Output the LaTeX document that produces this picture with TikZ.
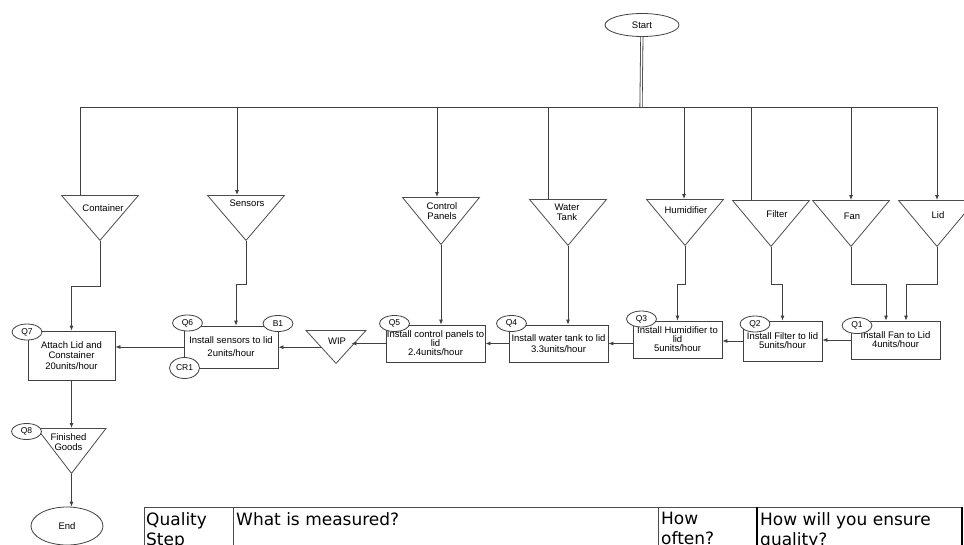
\documentclass[tikz,border=0pt]{standalone}
\usepackage{fontspec}
\setmainfont{Liberation Sans}
\newfontfamily\tablefont{DejaVu Sans}
\usetikzlibrary{shapes.geometric,arrows.meta}

\begin{document}
\begin{tikzpicture}[x=1pt,y=-1pt,
    line/.style={draw=black!75,line width=0.8pt},
    arr/.style={line,-{Latex[length=5pt,width=4pt]}},
    part/.style={isosceles triangle,isosceles triangle stretches,shape border rotate=270,draw=black!70,line width=0.8pt,minimum width=77pt,minimum height=45pt,inner sep=0pt,anchor=north},
    lbl/.style={anchor=north,font=\fontsize{9.5}{9.5}\selectfont,align=center,inner sep=0pt},
    stepbox/.style={draw=black!75,line width=0.8pt,font=\fontsize{9.5}{9}\selectfont,align=center,inner sep=1pt},
    qc/.style={ellipse,draw=black!75,line width=0.8pt,fill=white,minimum width=30pt,minimum height=16pt,inner sep=0pt,font=\fontsize{8.5}{8}\selectfont},
    term/.style={ellipse,draw=black!75,line width=0.8pt,inner sep=0pt,font=\fontsize{9.5}{9}\selectfont},
    cell/.style={anchor=north west,inner sep=0pt,align=left,font=\tablefont\fontsize{17}{20}\selectfont}]
  \useasboundingbox (0,0) rectangle (964,544);
  \clip (0,0) rectangle (964,544);

  % start and the supply line
  \node[term,minimum width=74pt,minimum height=23pt] (start) at (642,25) {Start};
  \coordinate (hub) at (641,107);

  % incoming parts
  \node[part,label={[lbl,xshift=3pt,yshift=-9pt]north:Container}] (cont) at (100,195) {};
  \node[part,label={[lbl,xshift=1pt,yshift=-5pt]north:Sensors}] (sens) at (246,195) {};
  \node[part,minimum height=47pt,label={[lbl,xshift=1pt,yshift=-5.5pt]north:Control\\Panels}] (cp) at (441,197) {};
  \node[part,minimum height=46pt,label={[lbl,xshift=-1pt,yshift=-5pt]north:Water\\Tank}] (wt) at (568,199) {};
  \node[part,minimum height=46pt,label={[lbl,xshift=1pt,yshift=-7.5pt]north:Humidifier}] (hum) at (685,199) {};
  \node[part,minimum height=46pt,label={[lbl,xshift=6pt,yshift=-10.5pt]north:Filter}] (filt) at (771,200) {};
  \node[part,minimum height=46pt,label={[lbl,xshift=1pt,yshift=-12.5pt]north:Fan}] (fan) at (851,200) {};
  \node[part,minimum height=46pt,label={[lbl,xshift=1pt,yshift=-11.5pt]north:Lid}] (lid) at (937,200) {};

  % assembly steps
  \node[stepbox,minimum width=89pt,minimum height=38pt] (s1) at (895.5,340) {Install Fan to Lid\\4units/hour};
  \node[stepbox,minimum width=79pt,minimum height=40pt] (s2) at (782.5,341) {Install Filter to lid\\5units/hour};
  \node[stepbox,minimum width=89pt,minimum height=37pt] (s3) at (677.5,339.5) {Install Humidifier to\\lid\\5units/hour};
  \node[stepbox,minimum width=99pt,minimum height=37pt] (s4) at (558.5,343.5) {Install water tank to lid\\[2pt]3.3units/hour};
  \node[stepbox,minimum width=99pt,minimum height=37pt] (s5) at (435.5,343.5) {Install control panels to\\lid\\2.4units/hour};
  \node[part,minimum width=60pt,minimum height=33pt,label={[lbl,xshift=1pt,yshift=-8pt]north:WIP}] (wip) at (336,330) {};
  \node[stepbox,minimum width=94pt,minimum height=42pt] (s6) at (231,347) {Install sensors to lid\\[4pt]2units/hour};
  \node[stepbox,minimum width=87pt,minimum height=49pt] (s7) at (71.5,355.5) {Attach Lid and\\[1pt]Constainer\\[2pt]20units/hour};
  \node[part,minimum width=69pt,minimum height=45pt,label={[lbl,xshift=-3pt,yshift=-5.5pt]north:Finished\\Goods}] (fg) at (71.5,428) {};
  \node[term,minimum width=72pt,minimum height=38pt] (end) at (67,526) {End};

  % checkpoints
  \node[qc] (q1) at (857,325.5) {Q1};
  \node[qc] (q2) at (755,324) {Q2};
  \node[qc] (q3) at (641.5,319) {Q3};
  \node[qc] (q4) at (511.5,323.5) {Q4};
  \node[qc] (q5) at (394.5,323.5) {Q5};
  \node[qc] (q6) at (187.5,323) {Q6};
  \node[qc] (b1) at (278,323.5) {B1};
  \node[qc,minimum height=21pt] (cr1) at (184.5,368) {CR1};
  \node[qc] (q7) at (27,332) {Q7};
  \node[qc] (q8) at (26.5,431.5) {Q8};

  % supply lines
  \draw[line,double,double distance=1.5pt] (start) -- (hub);
  \draw[line] (hub) -| ([xshift=-20pt]cont.north);
  \draw[arr] (hub) -| ([xshift=-9pt]sens.north);
  \draw[arr] (hub) -| ([xshift=-4pt]cp.north);
  \draw[line] (hub) -| ([xshift=-20pt]wt.north);
  \draw[arr] (hub) -| ([xshift=-1pt]hum.north);
  \draw[line] (hub) -| ([xshift=-20pt]filt.north);
  \draw[arr] (hub) -| (fan.north);
  \draw[arr] (hub) -| (lid.north);

  \draw[arr] (cont.apex) -- ++(0,45) -| (s7.north);
  \draw[arr] (sens.apex) -- ++(0,43) -| ([xshift=5pt]s6.north);
  \draw[arr] (cp.apex) -- (cp.apex |- s5.north);
  \draw[arr] (wt.apex) -- (wt.apex |- s4.north);
  \draw[arr] (hum.apex) -- ++(0,38) -| (s3.north);
  \draw[arr] (filt.apex) -- ++(0,37) -| (s2.north);
  \draw[arr] (fan.apex) -- ++(0,37) -| ([xshift=-9.5pt]s1.north);
  \draw[arr] (lid.apex) -- ++(0,37) -| ([xshift=10.5pt]s1.north);

  % main flow
  \draw[arr] (s1.west) -- (s1.west -| s2.east);
  \draw[arr] (s2.west) -- (s2.west -| s3.east);
  \draw[arr] (s4.east -| s3.west) -- (s4.east);
  \draw[arr] (s4.west) -- (s5.east);
  \draw[arr] (s5.west) -- (s5.west -| wip.left side);
  \draw[arr] (wip.right side) -- (wip.right side -| s6.east);
  \draw[arr] (s6.west) -- (s6.west -| s7.east);
  \draw[arr] (s7.south) -- (fg.north);
  \draw[arr] (fg.apex) -- (fg.apex |- end.north);

  % quality table
  \draw[black!70,line width=0.6pt] (144,507) rectangle (962,570);
  \draw[black!70,line width=0.6pt] (233,507) -- (233,570) (658,507) -- (658,570);
  \draw[black,line width=1.3pt] (757,507) -- (757,570) (962,507) -- (962,570);
  \node[cell] (c1) at (146,512) {Quality\\Step};
  \node[cell] (c2) at (236,512) {What is measured?};
  \node[cell] (c3) at (661,512) {How\\often?};
  \node[cell] (c4) at (760,512) {How will you ensure\\quality?};
\end{tikzpicture}
\end{document}
